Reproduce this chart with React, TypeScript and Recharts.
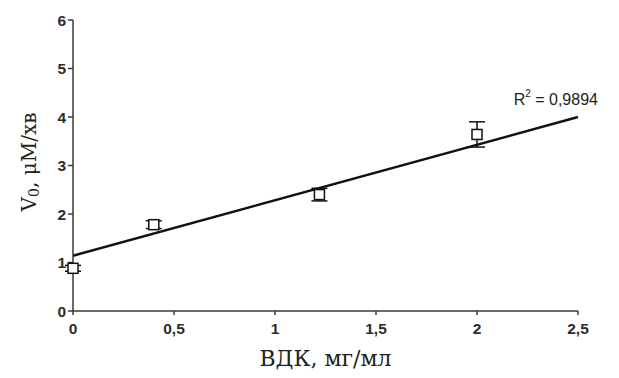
import {
  ComposedChart,
  Scatter,
  ErrorBar,
  XAxis,
  YAxis,
  ReferenceLine,
  ReferenceDot,
} from "recharts";

// values
const concentrations = [0, 0.4, 1.22, 2.0];
const rates = [0.88, 1.78, 2.4, 3.64];
const rateErrors = [0.06, 0.08, 0.13, 0.26];
const trendX = [0, 2.5];
const trendY = [1.14, 4.0];
const xTicks = [0, 0.5, 1, 1.5, 2, 2.5];
const yTicks = [0, 1, 2, 3, 4, 5, 6];
const rSquared = "0,9894";

const points = concentrations.map((c, i) => ({
  x: c,
  y: rates[i],
  err: rateErrors[i],
}));

const AXIS = "#3a3a3a";
const TICK_FONT = { fontSize: 15.5, fill: "#2b2b2b", fontFamily: "Liberation Sans, Arial", fontWeight: 600 };
const SERIF = "DejaVu Serif, Liberation Serif, serif";

const Square = (props: any) => {
  const { cx, cy } = props;
  return (
    <rect x={cx - 5} y={cy - 5} width={10} height={10} fill="#fff" stroke="#111" strokeWidth={1.5} />
  );
};

const YTitle = (props: any) => {
  const cx = 30;
  const cy = 162;
  return (
    <text
      x={cx}
      y={cy}
      transform={`rotate(-90 ${cx} ${cy})`}
      textAnchor="middle"
      dominantBaseline="middle"
      fontFamily={SERIF}
      fontSize={20}
      fill="#222"
    >
      V<tspan fontSize={14} dy={5}>0</tspan>
      <tspan dy={-5}>, μM/хв</tspan>
    </text>
  );
};

const RLabel = (props: any) => {
  const { viewBox } = props;
  const x = viewBox.x + (viewBox.width || 0) / 2;
  const y = viewBox.y + (viewBox.height || 0) / 2;
  return (
    <text x={x} y={y} textAnchor="middle" dominantBaseline="middle" fontFamily="Liberation Sans, Arial" fontSize={16} fill="#222">
      R<tspan fontSize={10} dy={-7}>2</tspan>
      <tspan dy={7}> = {rSquared}</tspan>
    </text>
  );
};

export default function App() {
  return (
    <div style={{ position: "fixed", left: 0, top: 0, width: 619, height: 378, background: "#fff" }}>
      <ComposedChart width={619} height={378} margin={{ top: 20, right: 41, bottom: 37, left: 43 }}>
        <XAxis
          type="number"
          dataKey="x"
          domain={[0, 2.5]}
          ticks={xTicks}
          tickFormatter={(v: number) => String(v).replace(".", ",")}
          tick={TICK_FONT}
          tickSize={4}
          tickMargin={8}
          stroke={AXIS}
          strokeWidth={1.5}
          height={30}
          label={{
            value: "ВДК, мг/мл",
            position: "insideBottom",
            offset: -25,
            style: { fontFamily: SERIF, fontSize: 22, fill: "#222" },
          }}
        />
        <YAxis
          type="number"
          dataKey="y"
          domain={[0, 6]}
          ticks={yTicks}
          tick={TICK_FONT}
          tickSize={5}
          stroke={AXIS}
          strokeWidth={1.5}
          width={30}
          label={<YTitle />}
        />
        <ReferenceLine
          segment={[
            { x: trendX[0], y: trendY[0] },
            { x: trendX[1], y: trendY[1] },
          ]}
          stroke="#111"
          strokeWidth={2.5}
          ifOverflow="visible"
        />
        <ReferenceDot x={2.39} y={4.34} r={0} fill="none" stroke="none" label={<RLabel />} ifOverflow="visible" />
        <Scatter data={points} shape={<Square />} isAnimationActive={false}>
          <ErrorBar dataKey="err" direction="y" width={8} stroke="#111" strokeWidth={1.5} />
        </Scatter>
      </ComposedChart>
    </div>
  );
}
